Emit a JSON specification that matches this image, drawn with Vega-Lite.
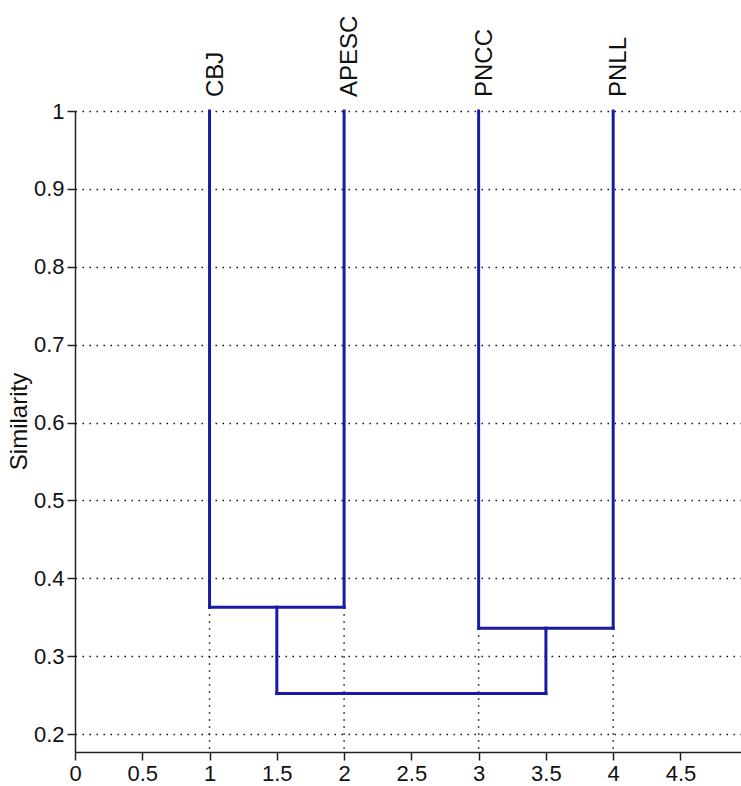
{
  "$schema": "https://vega.github.io/schema/vega-lite/v6.json",
  "width": 666,
  "height": 641,
  "autosize": {"type": "none"},
  "padding": {"left": 75, "top": 111, "right": 0, "bottom": 34},
  "background": "white",
  "config": {
    "view": {"stroke": null},
    "font": "Liberation Sans",
    "axis": {
      "labelFont": "Liberation Sans",
      "titleFont": "Liberation Sans",
      "labelColor": "#111",
      "titleColor": "#111",
      "domainColor": "#222",
      "tickColor": "#222",
      "domainWidth": 1.5,
      "tickWidth": 1.5
    }
  },
  "datasets": {
    "links": [
      {"x": 1, "x2": 1, "y": 1, "y2": 0.363},
      {"x": 2, "x2": 2, "y": 1, "y2": 0.363},
      {"x": 1, "x2": 2, "y": 0.363, "y2": 0.363},
      {"x": 3, "x2": 3, "y": 1, "y2": 0.336},
      {"x": 4, "x2": 4, "y": 1, "y2": 0.336},
      {"x": 3, "x2": 4, "y": 0.336, "y2": 0.336},
      {"x": 1.5, "x2": 1.5, "y": 0.363, "y2": 0.252},
      {"x": 3.5, "x2": 3.5, "y": 0.336, "y2": 0.252},
      {"x": 1.5, "x2": 3.5, "y": 0.252, "y2": 0.252}
    ],
    "leaves": [
      {"name": "CBJ", "pos": 1, "merge": 0.363, "base": 0.177},
      {"name": "APESC", "pos": 2, "merge": 0.363, "base": 0.177},
      {"name": "PNCC", "pos": 3, "merge": 0.336, "base": 0.177},
      {"name": "PNLL", "pos": 4, "merge": 0.336, "base": 0.177}
    ]
  },
  "layer": [
    {
      "data": {"name": "leaves"},
      "mark": {"type": "rule", "color": "#111", "strokeWidth": 1.5, "strokeDash": [1.5, 5.5]},
      "encoding": {
        "x": {
          "field": "pos",
          "type": "quantitative",
          "scale": {"domain": [0, 4.95], "nice": false, "zero": false},
          "axis": {
            "title": null,
            "values": [0, 0.5, 1, 1.5, 2, 2.5, 3, 3.5, 4, 4.5],
            "format": "~g",
            "grid": false,
            "labelFontSize": 22,
            "tickSize": 8,
            "labelPadding": 3,
            "labelFlush": false
          }
        },
        "y": {
          "field": "merge",
          "type": "quantitative",
          "scale": {"domain": [0.177, 1], "nice": false, "zero": false},
          "axis": {
            "title": "Similarity",
            "titleFontSize": 24,
            "titleFontWeight": "normal",
            "titleX": -44,
            "titleY": 310,
            "values": [0.2, 0.3, 0.4, 0.5, 0.6, 0.7, 0.8, 0.9, 1],
            "format": "~g",
            "grid": true,
            "gridColor": "#111",
            "gridOpacity": 1,
            "gridWidth": 1.5,
            "gridDash": [1.5, 5.5],
            "labelFontSize": 22,
            "tickSize": 8,
            "labelPadding": 3,
            "labelFlush": false
          }
        },
        "y2": {"field": "base"}
      }
    },
    {
      "data": {"name": "links"},
      "mark": {"type": "rule", "color": "#1a1aa6", "strokeWidth": 3, "strokeCap": "square"},
      "encoding": {
        "x": {"field": "x", "type": "quantitative"},
        "x2": {"field": "x2"},
        "y": {"field": "y", "type": "quantitative"},
        "y2": {"field": "y2"}
      }
    },
    {
      "data": {"name": "leaves"},
      "mark": {
        "type": "text",
        "angle": 270,
        "align": "left",
        "baseline": "middle",
        "dx": 14,
        "dy": 6,
        "fontSize": 24,
        "color": "#111",
        "font": "Liberation Sans"
      },
      "encoding": {
        "x": {"field": "pos", "type": "quantitative"},
        "y": {"datum": 1},
        "text": {"field": "name"}
      }
    }
  ]
}
